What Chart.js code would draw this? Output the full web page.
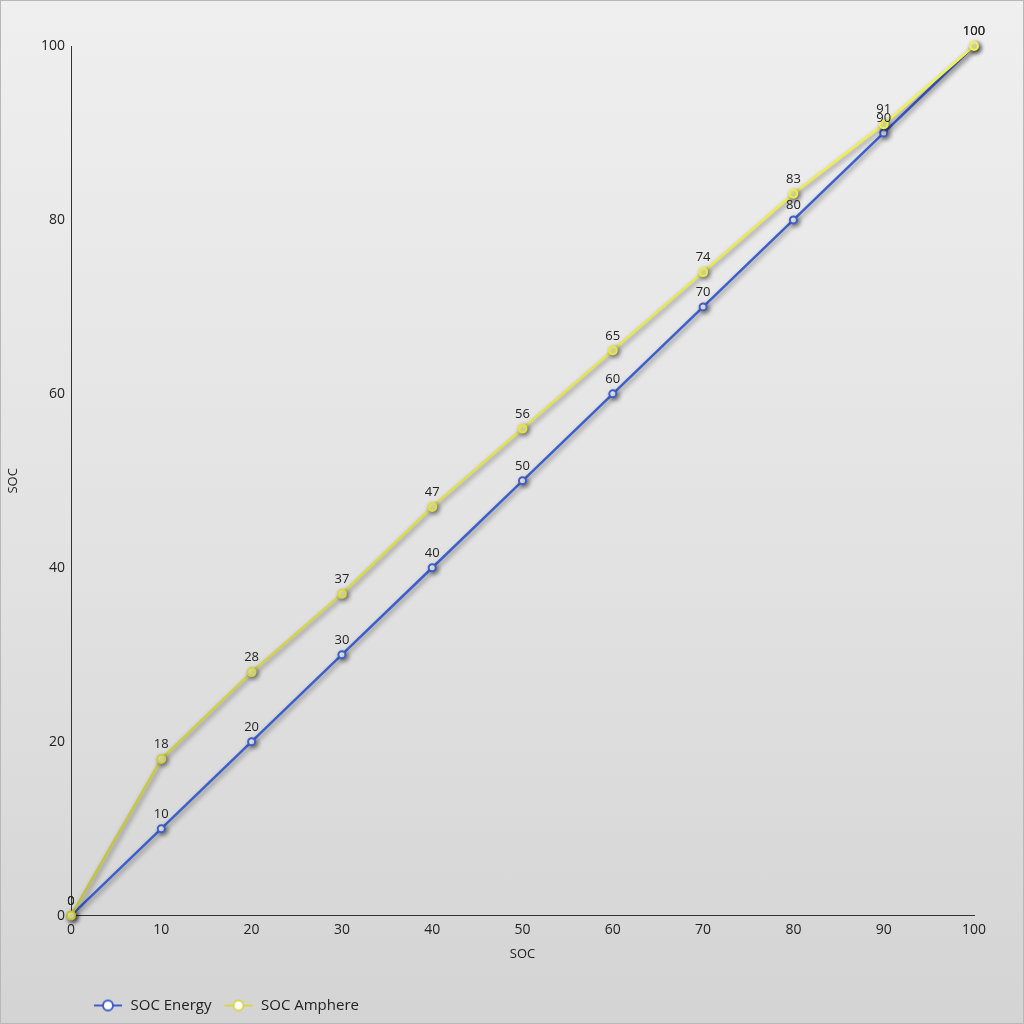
<!DOCTYPE html>
<html>
<head>
<meta charset="utf-8">
<script src="https://cdn.jsdelivr.net/npm/chart.js@4"></script>
<style>
  html, body { margin: 0; padding: 0; }
  #wrap {
    width: 1022px; height: 1022px;
    border: 1px solid #b8b8b8;
    background: linear-gradient(to bottom, #efefef 0%, #e2e2e2 55%, #d4d4d4 100%);
  }
</style>
</head>
<body>
<div id="wrap"><canvas id="grafico" width="1022" height="1022"></canvas></div>
<script>
// dados
const socX = [0, 10, 20, 30, 40, 50, 60, 70, 80, 90, 100];
const socEnergy = [0, 10, 20, 30, 40, 50, 60, 70, 80, 90, 100];
const socAmphere = [0, 18, 28, 37, 47, 56, 65, 74, 83, 91, 100];
const nomes = ['SOC Energy', 'SOC Amphere'];

const azul = '#3d5fcb';
const amarelo = '#e4e44c';
const fonte = '"Open Sans", sans-serif';

function pontos(vals) {
  return socX.map((x, i) => ({ x: x, y: vals[i] }));
}

// icone da legenda: linha com circulo
function iconeLegenda(cor, fundo) {
  const c = document.createElement('canvas');
  c.width = 30; c.height = 14;
  const g = c.getContext('2d');
  g.strokeStyle = cor; g.lineWidth = 2;
  g.beginPath(); g.moveTo(1, 7); g.lineTo(29, 7); g.stroke();
  g.fillStyle = fundo;
  g.beginPath(); g.arc(15, 7, 5, 0, Math.PI * 2); g.fill(); g.stroke();
  return c;
}
const icones = [iconeLegenda(azul, '#fff'), iconeLegenda('#d6d64a', '#fff')];

function gradAmarelo(context) {
  const chart = context.chart;
  const area = chart.chartArea;
  if (!area) return amarelo;
  const g = chart.ctx.createLinearGradient(0, area.bottom, 0, area.top);
  g.addColorStop(0, '#c0c03e');
  g.addColorStop(0.5, '#e0e04a');
  g.addColorStop(1, '#f2f252');
  return g;
}

const sombra = {
  id: 'sombra',
  afterLayout(chart) {
    // empurra a legenda para a direita
    const lg = chart.legend;
    lg.left += 80; lg.right += 80;
    if (lg.legendHitBoxes) lg.legendHitBoxes.forEach(b => { b.left += 80; });
  },
  beforeDatasetsDraw(chart) {
    const ctx = chart.ctx;
    ctx.save();
    ctx.shadowColor = 'rgba(0,0,0,0.45)';
    ctx.shadowBlur = 5;
    ctx.shadowOffsetX = 2;
    ctx.shadowOffsetY = 2;
  },
  afterDatasetsDraw(chart) {
    chart.ctx.restore();
    // rotulos de valor
    const ctx = chart.ctx;
    ctx.save();
    ctx.font = '13px ' + fonte;
    ctx.fillStyle = '#222';
    ctx.textAlign = 'center';
    ctx.textBaseline = 'bottom';
    chart.data.datasets.forEach((ds, i) => {
      const meta = chart.getDatasetMeta(i);
      meta.data.forEach((p, j) => {
        ctx.fillText(String(ds.data[j].y), p.x, p.y - 8);
      });
    });
    ctx.restore();
  }
};

const ctx = document.getElementById('grafico').getContext('2d');
new Chart(ctx, {
  type: 'line',
  data: {
    datasets: [{
      label: nomes[0],
      data: pontos(socEnergy),
      order: 1,
      clip: false,
      borderColor: azul,
      borderWidth: 2.5,
      pointRadius: 3.5,
      pointBorderWidth: 2,
      pointBackgroundColor: '#ffffff',
      pointBorderColor: azul,
      tension: 0
    }, {
      label: nomes[1],
      data: pontos(socAmphere),
      order: 0,
      clip: false,
      borderColor: gradAmarelo,
      borderWidth: 2.5,
      pointRadius: 4,
      pointBorderWidth: 2,
      pointBackgroundColor: '#f6f6a8',
      pointBorderColor: gradAmarelo,
      tension: 0
    }]
  },
  plugins: [sombra],
  options: {
    responsive: false,
    animation: false,
    layout: { padding: { top: 45, right: 49, left: 0, bottom: 0 } },
    plugins: {
      tooltip: { enabled: false },
      legend: {
        position: 'bottom',
        align: 'start',
        labels: {
          usePointStyle: true,
          pointStyleWidth: 30,
          padding: 12,
          color: '#222',
          font: { family: fonte, size: 15 },
          generateLabels(chart) {
            return chart.data.datasets.map((ds, i) => ({
              text: ds.label,
              pointStyle: icones[i],
              fillStyle: 'transparent',
              strokeStyle: 'transparent',
              lineWidth: 0,
              fontColor: '#222',
              datasetIndex: i,
              hidden: false
            }));
          }
        }
      }
    },
    scales: {
      x: {
        type: 'linear',
        min: 0, max: 100,
        ticks: { stepSize: 10, color: '#222', padding: 6, font: { family: fonte, size: 14 } },
        grid: { display: false, drawTicks: false },
        border: { display: true, color: '#333', width: 1 },
        title: { display: true, text: 'SOC', color: '#222', padding: { top: 2, bottom: 24 }, font: { family: fonte, size: 13 } }
      },
      y: {
        min: 0, max: 100,
        ticks: { stepSize: 20, color: '#222', padding: 6, font: { family: fonte, size: 14 } },
        grid: { display: false, drawTicks: false },
        border: { display: true, color: '#333', width: 1 },
        title: { display: true, text: 'SOC', color: '#222', font: { family: fonte, size: 13 } },
        afterFit(scale) { scale.width = 70; }
      }
    }
  }
});
</script>
</body>
</html>
